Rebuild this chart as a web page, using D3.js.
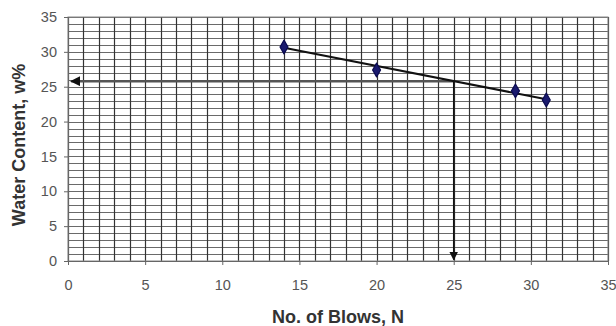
<!DOCTYPE html>
<html><head><meta charset="utf-8">
<script src="https://cdn.jsdelivr.net/npm/d3@7"></script>
<style>body{margin:0;background:#fff}svg{display:block}</style>
</head><body>
<svg id="c" width="616" height="326"></svg>
<script>
const blows = [14, 20, 29, 31];
const waterContent = [30.7, 27.4, 24.4, 23.1];
const trendX = [14, 31];
const trendY = [30.6, 23.2];
const targetBlows = 25;
const liquidLimit = 25.8;
const xTicks = [0, 5, 10, 15, 20, 25, 30, 35];
const yTicks = [0, 5, 10, 15, 20, 25, 30, 35];
const xTitle = "No. of Blows, N";
const yTitle = "Water Content, w%";

const svg = d3.select("#c");
const m = {l: 68, r: 8, t: 17, b: 65};
const W = 616 - m.l - m.r, H = 326 - m.t - m.b;
const x = d3.scaleLinear().domain([0, 35]).range([m.l, m.l + W]);
const y = d3.scaleLinear().domain([0, 35]).range([m.t + H, m.t]);
const font = "Liberation Sans, Arial, sans-serif";

const g = svg.append("g");
// horizontal grid
g.selectAll("line.hg").data(d3.range(0, 36)).join("line")
  .attr("x1", x(0)).attr("x2", x(35))
  .attr("y1", d => Math.round(y(d)) + 0.5).attr("y2", d => Math.round(y(d)) + 0.5)
  .attr("stroke", "#6a6a6a").attr("stroke-width", 1);
// vertical grid
g.selectAll("line.vg").data(d3.range(0, 36)).join("line")
  .attr("y1", y(0)).attr("y2", y(35))
  .attr("x1", d => Math.round(x(d)) + 0.5).attr("x2", d => Math.round(x(d)) + 0.5)
  .attr("stroke", "#333").attr("stroke-width", 1.2);
// frame
g.append("rect").attr("x", x(0)).attr("y", y(35)).attr("width", x(35) - x(0)).attr("height", y(0) - y(35))
  .attr("fill", "none").attr("stroke", "#888").attr("stroke-width", 1);

// axes
const xa = svg.append("g").attr("transform", `translate(0,${y(0)})`)
  .call(d3.axisBottom(x).tickValues(xTicks).tickSize(4).tickPadding(15));
const ya = svg.append("g").attr("transform", `translate(${x(0)},0)`)
  .call(d3.axisLeft(y).tickValues(yTicks).tickSize(4).tickPadding(7));
[xa, ya].forEach(a => {
  a.select(".domain").attr("stroke", "#666");
  a.selectAll(".tick line").attr("stroke", "#666");
  a.selectAll("text").attr("font-family", font)
    .attr("font-size", 14.5).attr("fill", "#555");
});

// arrows
const defs = svg.append("defs");
defs.append("marker").attr("id", "ah").attr("viewBox", "0 0 10 10").attr("refX", 9).attr("refY", 5)
  .attr("markerWidth", 4).attr("markerHeight", 4).attr("orient", "auto")
  .attr("markerUnits", "strokeWidth")
  .append("path").attr("d", "M0,0L10,5L0,10Z").attr("fill", "#111");
defs.append("marker").attr("id", "ah2").attr("viewBox", "0 0 10 10").attr("refX", 9).attr("refY", 5)
  .attr("markerWidth", 6).attr("markerHeight", 6).attr("orient", "auto")
  .attr("markerUnits", "strokeWidth")
  .append("path").attr("d", "M0,0L10,5L0,10Z").attr("fill", "#111");
svg.append("line").attr("x1", x(targetBlows)).attr("y1", y(liquidLimit)).attr("x2", x(0.2)).attr("y2", y(liquidLimit))
  .attr("stroke", "#555").attr("stroke-width", 2.5).attr("marker-end", "url(#ah)");
svg.append("line").attr("x1", x(targetBlows)).attr("y1", y(liquidLimit)).attr("x2", x(targetBlows)).attr("y2", y(0.2))
  .attr("stroke", "#111").attr("stroke-width", 1.5).attr("marker-end", "url(#ah2)");

// trend line
svg.append("line").attr("x1", x(trendX[0])).attr("y1", y(trendY[0])).attr("x2", x(trendX[1])).attr("y2", y(trendY[1]))
  .attr("stroke", "#111").attr("stroke-width", 2);

// points
svg.selectAll("path.pt").data(blows.map((b, i) => [b, waterContent[i]])).join("path")
  .attr("d", d3.symbol().type(d3.symbolDiamond).size(55))
  .attr("transform", d => `translate(${x(d[0])},${y(d[1])})`)
  .attr("fill", "#1a1a6e").attr("stroke", "#0a0a50").attr("stroke-width", 1.2).attr("stroke-linejoin", "round");

// titles
svg.append("text").attr("x", 338).attr("y", 323).attr("text-anchor", "middle")
  .attr("font-family", font).attr("font-weight", "bold").attr("font-size", 18)
  .attr("fill", "#333").text(xTitle);
svg.append("text").attr("transform", `translate(25,145) rotate(-90)`).attr("text-anchor", "middle")
  .attr("font-family", font).attr("font-weight", "bold").attr("font-size", 18)
  .attr("fill", "#333").text(yTitle);
</script>
</body></html>
